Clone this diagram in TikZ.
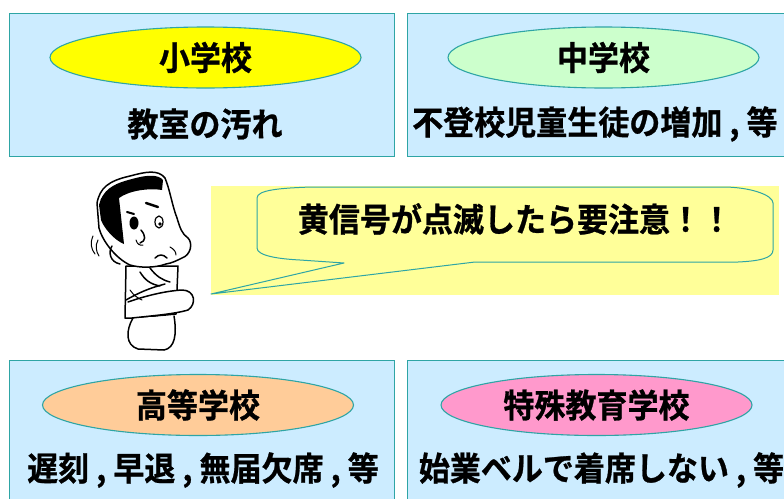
\documentclass[tikz,border=0pt]{standalone}
\usepackage{fontspec}
\newfontfamily\jp{Noto Sans CJK JP}[BoldFont={* Bold}, BoldFeatures={FakeBold=0.8, FakeStretch=0.94}]
\usetikzlibrary{shapes.geometric}
\definecolor{panelfill}{HTML}{CCECFF}
\definecolor{rimline}{HTML}{2EA5A5}
\definecolor{balloonfill}{HTML}{FFFF99}
\definecolor{elemfill}{HTML}{FFFF00}
\definecolor{juniorfill}{HTML}{CCFFCC}
\definecolor{highfill}{HTML}{FFCC99}
\definecolor{specialfill}{HTML}{FF99CC}
\tikzset{
  panel/.style={draw=rimline, line width=1pt, fill=panelfill, anchor=north west, inner sep=0pt},
  badge/.style={ellipse, draw=rimline, line width=1.1pt, minimum width=311pt, minimum height=61pt,
    inner sep=0pt, font=\jp\bfseries\fontsize{33}{33}\selectfont},
  issue/.style={font=\jp\bfseries\fontsize{33}{33}\selectfont, inner sep=0pt},
  ink/.style={line width=1.5pt, line join=round, line cap=round},
}
\begin{document}
\begin{tikzpicture}[x=1pt,y=-1pt]
\useasboundingbox (0,0) rectangle (784,498);
\clip (0,0) rectangle (784,498);

% four school panels
\node[panel, minimum width=385pt, minimum height=143pt] (pElem) at (9,13) {};
\node[panel, minimum width=400pt, minimum height=143pt] (pJunior) at (407,13) {};
\node[panel, minimum width=385pt, minimum height=160pt] (pHigh) at (9,360) {};
\node[panel, minimum width=400pt, minimum height=160pt] (pSpecial) at (407,360) {};

% school names
\node[badge, fill=elemfill] (eElem) at (205.5,57.5) {小学校};
\node[badge, fill=juniorfill] (eJunior) at (603.5,57.5) {中学校};
\node[badge, fill=highfill] (eHigh) at (198,405) {高等学校};
\node[badge, fill=specialfill] (eSpecial) at (596.5,405) {特殊教育学校};

% typical warning signs
\node[issue] (tElem) at (205,124) {教室の汚れ};
\node[issue, anchor=west] (tJunior) at (412,124) {不登校児童生徒の増加 , 等};
\node[issue] (tHigh) at (203,470) {遅刻 , 早退 , 無届欠席 , 等};
\node[issue] (tSpecial) at (601.5,470) {始業ベルで着席しない , 等};

% speech balloon
\fill[balloonfill] (211,186) rectangle (779,295);
\draw[rimline, line width=1pt, fill=balloonfill, line join=round]
  (344,263) -- (211,294) -- (475,262) -- (738,262)
  .. controls (760,261) and (773,258) .. (773,250)
  -- (773,203)
  .. controls (773,195) and (750,187) .. (723,187)
  -- (312,187)
  .. controls (280,188) and (257,190) .. (257,198)
  -- (257,248)
  .. controls (257,256) and (280,259) .. (300,260)
  -- cycle;
\node[issue] (warn) at (515,219) {黄信号が点滅したら要注意！！};

% worried teacher with crossed arms
\begin{scope}[ink]
  % body
  \draw[fill=white] (126,266) -- (125,318) -- (135,318) -- (176,314) -- (178,266) -- cycle;
  % pants
  \draw[fill=white] (133,318) .. controls (126,330) and (125,345) .. (138,349)
    -- (164,350) .. controls (175,348) and (177,334) .. (174,316);
  % crossed arms
  \draw[fill=white] (128,302) .. controls (145,296) and (165,291) .. (182,290)
    .. controls (195,290) and (197,304) .. (188,310)
    .. controls (175,314) and (150,316) .. (132,318);
  \draw (126,300) .. controls (140,292) and (150,288) .. (165,284);
  \draw (140,272) .. controls (145,280) and (150,284) .. (160,286);
  \draw (150,268) .. controls (156,276) and (162,280) .. (170,282);
  \draw[line width=1pt] (130,290) .. controls (134,296) and (138,298) .. (142,300);
  % head
  \draw[fill=white] (97,203) .. controls (100,188) and (108,181) .. (130,176)
    .. controls (145,172) and (158,169) .. (165,178)
    .. controls (170,190) and (172,205) .. (177,218)
    .. controls (180,228) and (182,234) .. (188,238)
    .. controls (193,243) and (191,255) .. (182,258)
    .. controls (176,261) and (172,263) .. (166,264)
    .. controls (155,268) and (140,268) .. (130,265)
    .. controls (115,258) and (102,240) .. (99,228) -- cycle;
  % hair
  \fill (99,205) .. controls (103,190) and (112,184) .. (132,179)
    .. controls (146,175) and (158,174) .. (163,180)
    -- (162,190) .. controls (150,188) and (130,190) .. (119,198)
    -- (124,244) .. controls (114,240) and (104,228) .. (101,220) -- cycle;
  \draw[line width=1pt] (101,200) .. controls (106,190) and (118,184) .. (135,181);
  % ear and hand
  \draw (112,246) .. controls (108,252) and (110,262) .. (120,264);
  \draw[line width=1pt] (93,236) .. controls (90,243) and (91,249) .. (95,254);
  \draw[line width=1pt] (98,240) .. controls (95,246) and (96,251) .. (99,256);
  % eyebrows
  \draw[line width=2.5pt] (146,203) -- (158,207);
  \draw[line width=2pt] (127,212) -- (134,214);
  % eyes
  \fill (134,223) ellipse (4.5pt and 6.5pt);
  \draw[line width=1.2pt] (159,222) ellipse (4pt and 6pt);
  \fill (160,224) circle (1.8pt);
  % nose
  \draw (141,230) .. controls (146,236) and (146,241) .. (140,243);
  \draw[line width=1pt] (136,240) .. controls (137,244) and (140,246) .. (143,245);
  % mouth
  \draw (155,258) .. controls (159,254) and (163,254) .. (167,258);
  \draw[line width=1pt] (170,247) .. controls (174,249) and (176,252) .. (176,255);
\end{scope}
\end{tikzpicture}
\end{document}
